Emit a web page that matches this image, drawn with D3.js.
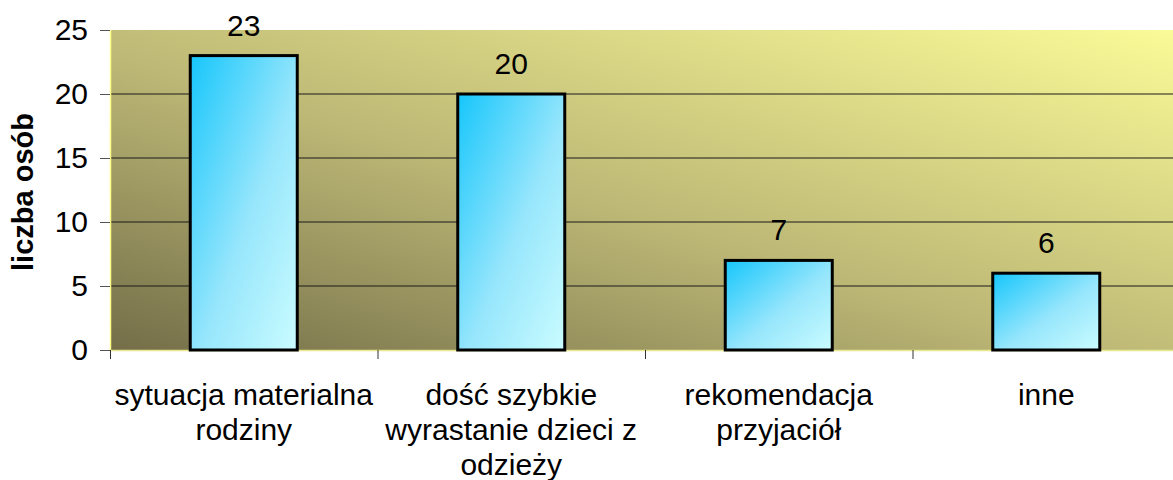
<!DOCTYPE html>
<html>
<head>
<meta charset="utf-8">
<script src="https://cdn.jsdelivr.net/npm/d3@7"></script>
<style>
  body { margin: 0; background: #fff; }
  text { font-family: Arial, "Liberation Sans", sans-serif; }
</style>
</head>
<body>
<script>
// data
const categories = ["sytuacja materialna rodziny", "dość szybkie wyrastanie dzieci z odzieży", "rekomendacja przyjaciół", "inne"];
const values = [23, 20, 7, 6];
const yTicks = [0, 5, 10, 15, 20, 25];
const yTitle = "liczba osób";

const width = 1173, height = 480;
const plotLeft = 110, plotRight = 1180, plotTop = 30, plotBottom = 350;
const fontSize = 30;

const svg = d3.select("body").append("svg")
  .attr("width", width)
  .attr("height", height);

const defs = svg.append("defs");

// plot background: dark olive bottom-left -> pale yellow top-right
const bg = defs.append("linearGradient")
  .attr("id", "bg")
  .attr("x1", 0).attr("y1", 1).attr("x2", 1).attr("y2", 0);
bg.append("stop").attr("offset", "0%").attr("stop-color", "#736e48");
bg.append("stop").attr("offset", "45%").attr("stop-color", "#bcb775");
bg.append("stop").attr("offset", "100%").attr("stop-color", "#fbfb98");

// bars: cyan top-left -> pale cyan bottom-right
const barGrad = defs.append("linearGradient")
  .attr("id", "bar")
  .attr("x1", 0).attr("y1", 0).attr("x2", 1).attr("y2", 1);
barGrad.append("stop").attr("offset", "0%").attr("stop-color", "#16c6fb");
barGrad.append("stop").attr("offset", "55%").attr("stop-color", "#97e6fc");
barGrad.append("stop").attr("offset", "100%").attr("stop-color", "#cafcff");

const x = d3.scaleBand()
  .domain(categories)
  .range([plotLeft, plotRight])
  .paddingInner(0.6)
  .paddingOuter(0.3);

const y = d3.scaleLinear()
  .domain([0, 25])
  .range([plotBottom, plotTop]);

// plot area
svg.append("rect")
  .attr("x", plotLeft)
  .attr("y", plotTop)
  .attr("width", plotRight - plotLeft)
  .attr("height", plotBottom - plotTop)
  .attr("fill", "url(#bg)");

// gridlines
svg.append("g")
  .selectAll("line")
  .data(yTicks.filter(d => d > 0 && d < 25))
  .enter()
    .append("line")
    .attr("x1", plotLeft)
    .attr("x2", plotRight)
    .attr("y1", d => y(d))
    .attr("y2", d => y(d))
    .attr("stroke", "#1a1a1a")
    .attr("stroke-width", 1);

// left edge / bottom edge of plot area (pale yellow)
svg.append("line")
  .attr("x1", plotLeft + 0.5).attr("x2", plotLeft + 0.5)
  .attr("y1", plotTop).attr("y2", plotBottom)
  .attr("stroke", "#ffff88").attr("stroke-width", 1.5);
svg.append("line")
  .attr("x1", plotLeft).attr("x2", plotRight)
  .attr("y1", plotBottom + 0.5).attr("y2", plotBottom + 0.5)
  .attr("stroke", "#e8e890").attr("stroke-width", 1.5);

// y axis
const yAxis = svg.append("g")
  .attr("transform", `translate(${plotLeft},0)`)
  .call(d3.axisLeft(y).tickValues(yTicks).tickSize(10).tickPadding(12));
yAxis.select(".domain").remove();
yAxis.selectAll(".tick line").attr("stroke", "#555");
yAxis.selectAll(".tick text")
  .attr("font-size", fontSize)
  .attr("font-family", "Arial, 'Liberation Sans', sans-serif")
  .attr("fill", "#000");

// x axis ticks at category boundaries
const step = x.step();
const boundaries = d3.range(categories.length).map(i => plotLeft + i * step);
svg.append("g")
  .selectAll("line")
  .data(boundaries)
  .enter()
    .append("line")
    .attr("x1", d => d + 0.5)
    .attr("x2", d => d + 0.5)
    .attr("y1", plotBottom)
    .attr("y2", plotBottom + 9)
    .attr("stroke", "#333");

// bars
svg.append("g")
  .selectAll("rect")
  .data(values)
  .enter()
    .append("rect")
    .attr("x", (d, i) => x(categories[i]))
    .attr("y", d => y(d))
    .attr("width", x.bandwidth())
    .attr("height", d => y(0) - y(d))
    .attr("fill", "url(#bar)")
    .attr("stroke", "#000")
    .attr("stroke-width", 3);

// value labels
svg.append("g")
  .selectAll("text")
  .data(values)
  .enter()
    .append("text")
    .attr("x", (d, i) => x(categories[i]) + x.bandwidth() / 2)
    .attr("y", d => y(d) - 20)
    .attr("text-anchor", "middle")
    .attr("font-size", fontSize)
    .text(d => d);

// category labels, wrapped
function wrapWords(str, maxWidth) {
  const tmp = svg.append("text").attr("font-size", fontSize);
  const words = str.split(" ");
  const lines = [];
  let line = [];
  words.forEach(w => {
    const test = line.concat(w).join(" ");
    tmp.text(test);
    if (tmp.node().getComputedTextLength() > maxWidth && line.length) {
      lines.push(line.join(" "));
      line = [w];
    } else {
      line.push(w);
    }
  });
  lines.push(line.join(" "));
  tmp.remove();
  return lines;
}

const catLabels = svg.append("g")
  .selectAll("text")
  .data(categories)
  .enter()
    .append("text")
    .attr("x", d => x(d) + x.bandwidth() / 2)
    .attr("y", 405)
    .attr("text-anchor", "middle")
    .attr("font-size", fontSize);

catLabels.each(function(d) {
  const t = d3.select(this);
  const cx = x(d) + x.bandwidth() / 2;
  wrapWords(d, 265).forEach((ln, i) => {
    t.append("tspan")
      .attr("x", cx)
      .attr("dy", i === 0 ? 0 : 35)
      .text(ln);
  });
});

// y axis title
svg.append("text")
  .attr("transform", "translate(33,192) rotate(-90)")
  .attr("text-anchor", "middle")
  .attr("font-size", 29)
  .attr("font-weight", "bold")
  .text(yTitle);
</script>
</body>
</html>
